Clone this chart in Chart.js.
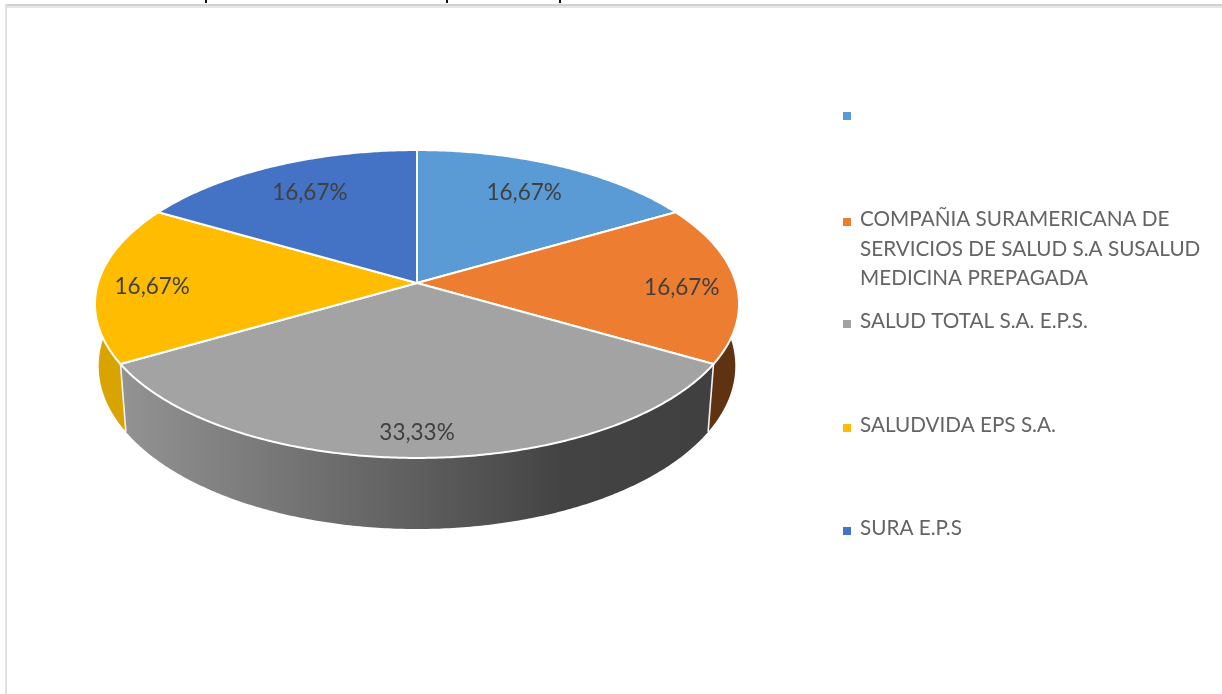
<!DOCTYPE html>
<html><head><meta charset="utf-8">
<style>
html,body{margin:0;padding:0;background:#fff;width:1222px;height:694px;overflow:hidden}
#wrap{position:relative;width:1222px;height:694px}
canvas{position:absolute;left:0;top:0}
.frameT{position:absolute;left:5px;top:4px;right:0;height:2px;background:#d2d2d2;box-shadow:0 2px 0 #e6e6e6}
.frameL{position:absolute;left:5px;top:4px;bottom:0;width:2px;background:#e0e0e0}
.frag{position:absolute;top:0;width:2px;height:3px;background:#111}
</style>
<script src="https://cdn.jsdelivr.net/npm/chart.js@4"></script>
</head><body><div id="wrap">
<canvas id="c" width="1222" height="694"></canvas>
<div class="frameT"></div><div class="frameL"></div>
<div class="frag" style="left:205px"></div><div class="frag" style="left:446px"></div><div class="frag" style="left:559px"></div>
</div>
<script>
const categories = ["", "COMPAÑIA SURAMERICANA DE SERVICIOS DE SALUD S.A SUSALUD MEDICINA PREPAGADA", "SALUD TOTAL S.A. E.P.S.", "SALUDVIDA EPS S.A.", "SURA E.P.S"];
const values = [1, 1, 2, 1, 1];
const colors = ["#5B9BD5", "#ED7D31", "#A3A3A3", "#FFBC00", "#4472C4"];
const wallColors = ["#3f6c96", "#5f3212", null, "#d9a300", "#2f5090"];

// layout of the perspective disc
const topFace = {cx:417, cy:283, A:319, B:151.1, k:0.1364};
const baseFace = {cx:417, cy:346.5, A:316, B:160.6, k:0.12};
const labelRadius = [0.73, 0.83, 0.875, 0.83, 0.73];
const labelDrop = [-2, 5, 0, 4, -2];
const legendY = [120, 226, 328, 432, 535];

function project(f, a, r){
  const u = r*Math.cos(a), v = -r*Math.sin(a), w = 1 + f.k*v;
  return [f.cx + f.A*u/w, f.cy - f.B*v/w];
}
function samples(s, e){
  const n = Math.max(2, Math.ceil(Math.abs(e-s)/0.01)), out = [];
  for(let i=0;i<=n;i++) out.push(s+(e-s)*i/n);
  return out;
}
function rimPath(ctx, f, s, e, first){
  samples(s,e).forEach((a,i)=>{
    const p = project(f,a,1);
    if(i===0 && first) ctx.moveTo(p[0],p[1]); else ctx.lineTo(p[0],p[1]);
  });
}
const disc3d = {
  id:'disc3d',
  beforeDatasetDraw(chart){
    const ctx = chart.ctx, arcs = chart.getDatasetMeta(0).data;
    const grad = ctx.createLinearGradient(125,0,709,0);
    grad.addColorStop(0,'#929292');
    grad.addColorStop(0.5,'#5e5e5e');
    grad.addColorStop(0.75,'#434343');
    grad.addColorStop(1,'#404040');
    // walls: side slices first, the front slice last
    const order = arcs.map((el,i)=>i).sort((i,j)=>{
      const m = k => Math.sin((arcs[k].startAngle+arcs[k].endAngle)/2);
      return m(i)-m(j);
    });
    order.forEach(i=>{
      const el = arcs[i];
      const mid = (el.startAngle+el.endAngle)/2;
      if(Math.sin(mid) < -0.5) return;
      ctx.beginPath();
      rimPath(ctx, topFace, el.startAngle, el.endAngle, true);
      rimPath(ctx, baseFace, el.endAngle, el.startAngle, false);
      ctx.closePath();
      ctx.fillStyle = wallColors[i] || grad;
      ctx.fill();
    });
    // white seams on the visible wall edges
    ctx.strokeStyle = '#f2f2f2'; ctx.lineWidth = 1.6;
    arcs.forEach((el,i)=>{
      if(!wallColors[i]){
        [el.startAngle, el.endAngle].forEach(a=>{
          const p = project(topFace,a,1), q = project(baseFace,a,1);
          ctx.beginPath(); ctx.moveTo(p[0],p[1]); ctx.lineTo(q[0],q[1]); ctx.stroke();
        });
      }
    });
    // top face
    arcs.forEach((el,i)=>{
      ctx.beginPath();
      ctx.moveTo(topFace.cx, topFace.cy);
      rimPath(ctx, topFace, el.startAngle, el.endAngle, false);
      ctx.closePath();
      ctx.fillStyle = colors[i];
      ctx.fill();
      ctx.strokeStyle = '#ffffff'; ctx.lineWidth = 2; ctx.lineJoin = 'round';
      ctx.stroke();
    });
    return false;
  },
  afterDraw(chart){
    const ctx = chart.ctx, arcs = chart.getDatasetMeta(0).data;
    const total = values.reduce((a,b)=>a+b,0);
    ctx.save();
    ctx.textBaseline = 'middle'; ctx.textAlign = 'center';
    ctx.font = '22.5px Lato'; ctx.fillStyle = '#404040';
    arcs.forEach((el,i)=>{
      const p = project(topFace,(el.startAngle+el.endAngle)/2,labelRadius[i]);
      const t = (values[i]/total*100).toFixed(2).replace('.',',')+'%';
      ctx.fillText(t, p[0], p[1]+labelDrop[i]);
    });
    // legend
    ctx.textBaseline = 'alphabetic'; ctx.textAlign = 'left';
    ctx.font = '20.7px Lato';
    categories.forEach((c,i)=>{
      ctx.fillStyle = colors[i];
      ctx.fillRect(843, legendY[i]-8, 8, 8);
      ctx.fillStyle = '#646464';
      let line = '', n = 0;
      const put = s => { ctx.fillText(s, 860, legendY[i]+n*29.5); n++; };
      c.split(' ').forEach(w=>{
        const t = line ? line+' '+w : w;
        if(ctx.measureText(t).width > 345 && line){ put(line); line = w; } else line = t;
      });
      if(line) put(line);
    });
    ctx.restore();
  }
};
new Chart(document.getElementById('c'),{
  type:'pie',
  data:{labels:categories,datasets:[{data:values,backgroundColor:colors,borderColor:'#fff',borderWidth:2}]},
  options:{responsive:false,animation:false,rotation:0,
    plugins:{legend:{display:false},tooltip:{enabled:false},title:{display:false}}},
  plugins:[disc3d]
});
</script></body></html>
